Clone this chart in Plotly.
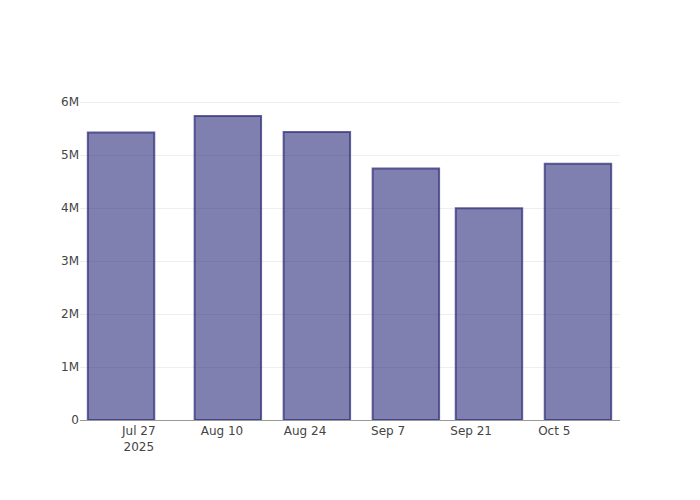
import plotly.graph_objects as go

dates = ["2025-07-24", "2025-08-11", "2025-08-26", "2025-09-10", "2025-09-24", "2025-10-09"]
values = [5430000, 5740000, 5440000, 4750000, 4000000, 4840000]

fig = go.Figure(
    go.Bar(
        x=dates,
        y=values,
        marker=dict(
            color="rgba(42,42,123,0.6)",
            line=dict(color="rgba(50,48,120,0.75)", width=2),
        ),
    )
)

fig.update_layout(
    width=700,
    height=500,
    plot_bgcolor="white",
    paper_bgcolor="white",
    font=dict(family="DejaVu Sans", color="#444", size=12),
    margin=dict(l=72, r=88, t=92, b=88),
    bargap=0.2,
    showlegend=False,
)
fig.update_xaxes(
    type="date",
    range=["2025-07-17 02:00", "2025-10-16 02:00"],
    showgrid=False,
    showline=True,
    linecolor="#999",
    linewidth=1,
    ticks="",
)
fig.update_yaxes(
    showgrid=True,
    gridcolor="#eee",
    zeroline=False,
    tickformat="~s",
    ticks="",
)

fig.write_html("out.html")
